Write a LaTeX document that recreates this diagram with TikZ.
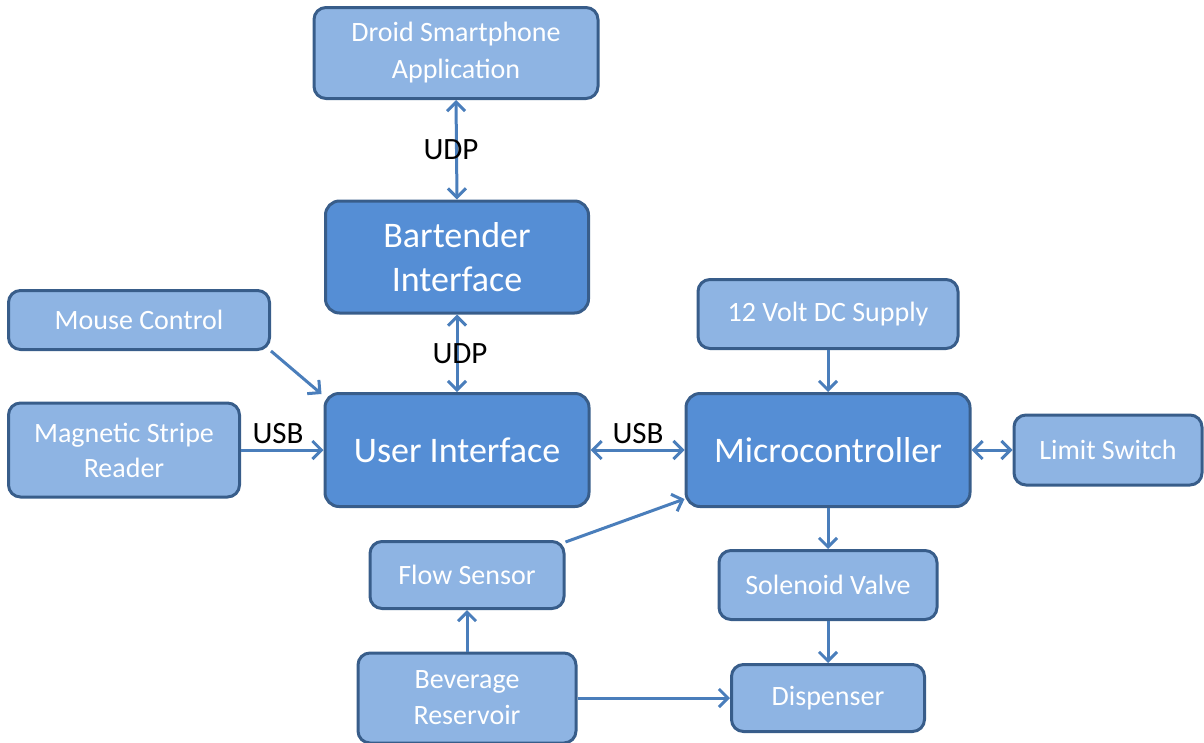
\documentclass[tikz,border=0pt]{standalone}
\usepackage{fontspec}
\setmainfont{Carlito}
\usetikzlibrary{arrows.meta,calc}
\definecolor{lightbox}{HTML}{8EB4E3}
\definecolor{darkbox}{HTML}{558ED5}
\definecolor{boxborder}{HTML}{385D8A}
\definecolor{arrowc}{HTML}{4A7EBB}
\tikzset{
  lbox/.style={draw=boxborder, line width=3pt, fill=lightbox, rounded corners=12pt, text=white, align=center, inner sep=0pt, font=\fontsize{28}{37}\selectfont},
  dbox/.style={draw=boxborder, line width=3pt, fill=darkbox, rounded corners=14pt, text=white, align=center, inner sep=0pt, font=\fontsize{36}{44}\selectfont},
  tip/.style={Straight Barb[length=9pt,width=18pt,line width=3pt]},
  conn/.style={draw=arrowc, line width=3pt, -{Straight Barb[length=9pt,width=18pt,line width=3pt]}},
  bconn/.style={draw=arrowc, line width=3pt, {Straight Barb[length=9pt,width=18pt,line width=3pt]}-{Straight Barb[length=9pt,width=18pt,line width=3pt]}},
  lbl/.style={text=black, font=\fontsize{31}{34}\selectfont, inner sep=0pt}
}
\begin{document}
\begin{tikzpicture}[x=1pt,y=-1pt]
\useasboundingbox (0,0) rectangle (1204,742);
\node[lbox, minimum width=284pt, minimum height=91pt] (droid) at (456,53) {Droid Smartphone\\Application};
\node[dbox, minimum width=263pt, minimum height=112pt] (bart) at (457,257) {Bartender\\Interface};
\node[lbox, minimum width=261pt, minimum height=59pt] (mouse) at (139,320) {Mouse Control};
\node[lbox, minimum width=231pt, minimum height=94pt, font=\fontsize{28}{35}\selectfont] (mag) at (124,450) {Magnetic Stripe\\Reader};
\node[dbox, minimum width=264pt, minimum height=113pt] (user) at (457,450) {User Interface};
\node[dbox, minimum width=284pt, minimum height=113pt] (micro) at (828,450) {Microcontroller};
\node[lbox, minimum width=260pt, minimum height=69pt] (volt) at (828,314) {12 Volt DC Supply};
\node[lbox, minimum width=188pt, minimum height=70pt] (limit) at (1108,450) {Limit Switch};
\node[lbox, minimum width=194pt, minimum height=67pt] (flow) at (467,575) {Flow Sensor};
\node[lbox, minimum width=218pt, minimum height=69pt] (sol) at (828,585) {Solenoid Valve};
\node[lbox, minimum width=218pt, minimum height=90pt, font=\fontsize{28}{36}\selectfont] (bev) at (467,698) {Beverage\\Reservoir};
\node[lbox, minimum width=193pt, minimum height=67pt] (disp) at (828,698) {Dispenser};

\draw[bconn] (droid.south) -- (bart.north);
\draw[bconn] (bart.south) -- (user.north);
\draw[conn] (mouse.south east) -- ([xshift=-2pt,yshift=-2pt]user.north west);
\draw[conn] (mag.east) -- (user.west);
\draw[bconn] (user.east) -- (micro.west);
\draw[conn] (volt.south) -- (micro.north);
\draw[bconn] (micro.east) -- (limit.west);
\draw[conn] ([yshift=-2pt]flow.north east) -- ([yshift=9pt]micro.south west);
\draw[conn] (micro.south) -- (sol.north);
\draw[conn] (sol.south) -- (disp.north);
\draw[conn] (bev.north) -- (flow.south);
\draw[conn] (bev.east) -- (disp.west);

\node[lbl] (udp1) at (451,150) {UDP};
\node[lbl] (udp2) at (460,354) {UDP};
\node[lbl] (usb1) at (278,434) {USB};
\node[lbl] (usb2) at (638,434) {USB};
\end{tikzpicture}
\end{document}
